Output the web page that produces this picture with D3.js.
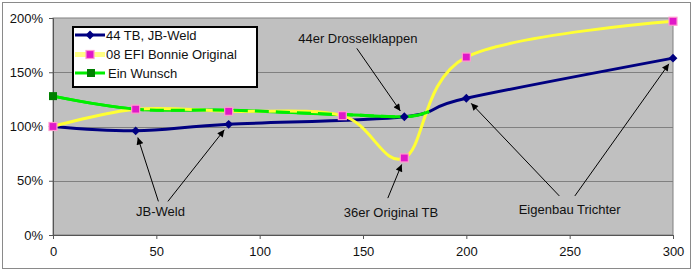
<!DOCTYPE html>
<html>
<head>
<meta charset="utf-8">
<script src="https://cdn.jsdelivr.net/npm/d3@7"></script>
<style>
  html, body { margin: 0; padding: 0; background: #fff; }
  svg { display: block; font-family: "Liberation Sans", Arial, sans-serif; }
</style>
</head>
<body>
<div id="chart"></div>
<script>
// series data (x = position, y = percent)
const seriesNames = ['44 TB, JB-Weld', '08 EFI Bonnie Original', 'Ein Wunsch'];
const jbWeld = [[0, 100], [40, 96], [85, 102], [170, 109], [200, 126], [300, 163]];
const bonnie = [[0, 100], [40, 116], [85, 114], [140, 110], [170, 71], [200, 164], [300, 197]];
const wunsch = [[0, 128], [40, 116], [85, 115], [140, 111], [170, 109], [182, 114]];
const xTicks = [0, 50, 100, 150, 200, 250, 300];
const yTicks = [0, 50, 100, 150, 200];

// annotations: label position, arrow tails and the points they point at (data units)
const notes = [
  { text: '44er Drosselklappen', at: [147.5, 177], arrows: [{ from: [147, 172], to: jbWeld[3] }] },
  { text: 'JB-Weld', at: [52, 17.5], arrows: [{ from: [51, 31], to: jbWeld[1] }, { from: [55.6, 31], to: jbWeld[2] }] },
  { text: '36er Original TB', at: [163.5, 16.5], arrows: [{ from: [162, 34], to: bonnie[4] }] },
  { text: 'Eigenbau Trichter', at: [250, 19], arrows: [{ from: [245, 36], to: jbWeld[4] }, { from: [252.5, 36], to: jbWeld[5] }] }
];

const width = 695, height = 274;
const margin = { top: 18, right: 22, bottom: 39, left: 53 };
const w = width - margin.left - margin.right;
const h = height - margin.top - margin.bottom;
const fontSize = 13;

const svg = d3.select('#chart').append('svg')
  .attr('width', width)
  .attr('height', height);

svg.append('defs').append('marker')
  .attr('id', 'arrow')
  .attr('viewBox', '0 0 10 10')
  .attr('refX', 10).attr('refY', 5)
  .attr('markerWidth', 9).attr('markerHeight', 7)
  .attr('markerUnits', 'userSpaceOnUse')
  .attr('orient', 'auto')
  .append('path')
  .attr('d', 'M0,0 L10,5 L0,10 Z')
  .attr('fill', '#000');

// chart area border
svg.append('rect')
  .attr('x', 2.5).attr('y', 2.5)
  .attr('width', width - 5 - 2).attr('height', height - 5 - 3)
  .attr('fill', '#fff')
  .attr('stroke', '#8a8a8a');

const g = svg.append('g')
  .attr('transform', `translate(${margin.left},${margin.top})`);

const x = d3.scaleLinear().domain([0, 300]).range([0, w]);
const y = d3.scaleLinear().domain([0, 200]).range([h, 0]);

// plot area
g.append('rect')
  .attr('width', w).attr('height', h)
  .attr('fill', '#c0c0c0')
  .attr('stroke', '#808080');

g.selectAll('.grid')
  .data(yTicks.slice(1, -1))
  .enter().append('line')
  .attr('x1', 0).attr('x2', w)
  .attr('y1', d => Math.round(y(d)) + 0.5).attr('y2', d => Math.round(y(d)) + 0.5)
  .attr('stroke', '#808080');

// axes
const yAxis = g.append('g')
  .call(d3.axisLeft(y).tickValues(yTicks).tickFormat(d => d + '%').tickSize(4).tickPadding(6));
const xAxis = g.append('g')
  .attr('transform', `translate(0,${h})`)
  .call(d3.axisBottom(x).tickValues(xTicks).tickSize(4).tickPadding(8));
[xAxis, yAxis].forEach(a => {
  a.select('.domain').attr('stroke', '#555');
  a.selectAll('.tick line').attr('stroke', '#555');
  a.selectAll('text').attr('font-size', fontSize).attr('fill', '#111')
    .attr('font-family', '"Liberation Sans", Arial, sans-serif');
});

// lines
const line = d3.line()
  .x(d => x(d[0]))
  .y(d => y(d[1]))
  .curve(d3.curveCardinal.tension(0));

g.append('path').datum(jbWeld)
  .attr('d', line).attr('fill', 'none')
  .attr('stroke', '#000080').attr('stroke-width', 3);

g.append('path').datum(wunsch)
  .attr('d', line).attr('fill', 'none')
  .attr('stroke', '#00ee00').attr('stroke-width', 3);

g.append('path').datum(bonnie)
  .attr('d', line).attr('fill', 'none')
  .attr('stroke', '#ffff33').attr('stroke-width', 3);

// green again, dashed, sitting on top of the yellow
g.append('path').datum(wunsch)
  .attr('d', line).attr('fill', 'none')
  .attr('stroke', '#00ee00').attr('stroke-width', 3)
  .attr('stroke-dasharray', '92 6 14 7 14 7 14 7 14 7 14 7 14 7 14 7 14 7 14 7 14 7 14 7 14 7 14 7 14 7 14 7 14 7 40');

// markers
const diamond = d3.symbol().type(d3.symbolDiamond2).size(50);
g.selectAll('.m1')
  .data(jbWeld)
  .enter().append('path')
  .attr('transform', d => `translate(${x(d[0])},${y(d[1])})`)
  .attr('d', diamond)
  .attr('fill', '#000080');

g.selectAll('.m3')
  .data(wunsch.slice(0, 1))
  .enter().append('rect')
  .attr('x', d => x(d[0]) - 4).attr('y', d => y(d[1]) - 4)
  .attr('width', 8).attr('height', 8)
  .attr('fill', '#008000');

g.selectAll('.m2')
  .data(bonnie)
  .enter().append('rect')
  .attr('x', d => x(d[0]) - 4).attr('y', d => y(d[1]) - 4)
  .attr('width', 8).attr('height', 8)
  .attr('fill', '#e018c8')
  .attr('stroke', '#ff9ad0').attr('stroke-width', 1.2);

// annotations
notes.forEach(n => {
  g.append('text')
    .attr('x', x(n.at[0])).attr('y', y(n.at[1]))
    .attr('text-anchor', 'middle')
    .attr('font-size', fontSize).attr('fill', '#111')
    .text(n.text);
  n.arrows.forEach(a => {
    const x0 = x(a.from[0]), y0 = y(a.from[1]);
    const tx = x(a.to[0]), ty = y(a.to[1]);
    const len = Math.hypot(tx - x0, ty - y0);
    const k = (len - 7) / len;
    g.append('line')
      .attr('x1', x0).attr('y1', y0)
      .attr('x2', x0 + (tx - x0) * k).attr('y2', y0 + (ty - y0) * k)
      .attr('stroke', '#000').attr('stroke-width', 1)
      .attr('marker-end', 'url(#arrow)');
  });
});

// legend
const legend = svg.append('g').attr('transform', 'translate(73,27)');
legend.append('rect')
  .attr('width', 184).attr('height', 60)
  .attr('fill', '#fff').attr('stroke', '#000').attr('stroke-width', 2);

const legendColors = ['#000080', '#ffff33', '#00ee00'];
const legendY = [8, 27.5, 46];
seriesNames.forEach((name, i) => {
  const row = legend.append('g').attr('transform', `translate(0,${legendY[i]})`);
  row.append('line')
    .attr('x1', 2).attr('x2', 32)
    .attr('stroke', legendColors[i]).attr('stroke-width', i === 1 ? 5 : 3)
    .attr('stroke-opacity', i === 1 ? 0.6 : 1);
  if (i === 0) {
    row.append('path').attr('transform', 'translate(17,0)').attr('d', diamond).attr('fill', '#000080');
  } else if (i === 1) {
    row.append('rect').attr('x', 13).attr('y', -4).attr('width', 8).attr('height', 8)
      .attr('fill', '#e018c8').attr('stroke', '#ff9ad0').attr('stroke-width', 1.2);
  } else {
    row.append('rect').attr('x', 14).attr('y', -4).attr('width', 8).attr('height', 8)
      .attr('fill', '#008000');
  }
  row.append('text')
    .attr('x', i === 2 ? 35 : 33).attr('y', 4.5)
    .attr('font-size', fontSize).attr('fill', '#111')
    .text(name);
});
</script>
</body>
</html>
